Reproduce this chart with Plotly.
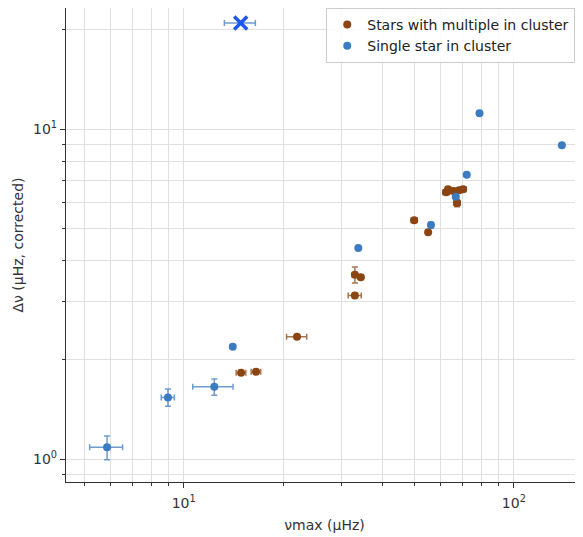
import numpy as np
import plotly.graph_objects as go

# Stars with multiple in cluster
multi_x = [14.92, 16.56, 22.04, 33.0, 34.4, 33.0, 49.9, 55.0, 62.4, 63.2, 65.5, 68.2, 70.2, 67.3]
multi_y = [1.826, 1.839, 2.35, 3.62, 3.56, 3.13, 5.30, 4.87, 6.44, 6.58, 6.49, 6.53, 6.58, 5.97]
multi_xerr = [0.5, 0.55, 1.55, 0.6, 0.6, 1.5, 1.0, 0.6, 1.5, 1.0, 1.0, 1.5, 1.5, 1.5]
multi_yerr = [0.03, 0.03, 0.03, 0.2, 0.05, 0.05, 0.08, 0.06, 0.1, 0.1, 0.1, 0.1, 0.1, 0.15]

# Single star in cluster
single_x = [5.86, 8.96, 12.38, 14.08, 33.8, 56.1, 66.7, 72.0, 78.7, 139.8]
single_y = [1.085, 1.538, 1.656, 2.189, 4.36, 5.12, 6.24, 7.27, 11.18, 8.94]
single_xerr = [0.67, 0.41, 1.73, 0.2, 0.3, 0.6, 0.6, 0.4, 0.4, 0.8]
single_yerr = [0.09, 0.093, 0.094, 0.02, 0.03, 0.1, 0.06, 0.05, 0.05, 0.05]

# Outlier (single star, flagged)
out_x = [14.88]
out_y = [21.0]
out_xerr = [1.6]

major_vals = [1, 10, 100]
major_text = ["10<sup>0</sup>", "10<sup>1</sup>", "10<sup>2</sup>"]
minor_vals = [m * d for d in [0.1, 1, 10, 100] for m in range(2, 10)]

BLUE = "#3b7bbf"
BROWN = "#8b4513"
GRID = "#e0e0e0"

fig = go.Figure()
fig.add_trace(go.Scatter(
    x=multi_x, y=multi_y, mode="markers", name="Stars with multiple in cluster",
    marker=dict(color=BROWN, size=8),
    error_x=dict(type="data", array=multi_xerr, color="rgba(139,69,19,0.75)", thickness=1.5, width=3),
    error_y=dict(type="data", array=multi_yerr, color="rgba(139,69,19,0.75)", thickness=1.5, width=3),
))
fig.add_trace(go.Scatter(
    x=single_x, y=single_y, mode="markers", name="Single star in cluster",
    marker=dict(color=BLUE, size=8),
    error_x=dict(type="data", array=single_xerr, color="rgba(59,123,191,0.75)", thickness=1.5, width=3),
    error_y=dict(type="data", array=single_yerr, color="rgba(59,123,191,0.75)", thickness=1.5, width=3),
))
fig.add_trace(go.Scatter(
    x=out_x, y=out_y, mode="markers", showlegend=False,
    marker=dict(symbol="x-thin", size=13, line=dict(color="#1f55f0", width=3.5)),
    error_x=dict(type="data", array=out_xerr, color="rgba(59,123,191,0.75)", thickness=1.5, width=3),
))

axis_common = dict(
    type="log", showline=True, linecolor="#333333", linewidth=1.2,
    ticks="outside", ticklen=5, tickwidth=1, tickcolor="#333333",
    tickmode="array", tickvals=major_vals, ticktext=major_text,
    showgrid=True, gridcolor=GRID, gridwidth=1, zeroline=False, mirror=False,
    automargin=False,
    minor=dict(tickmode="array", tickvals=minor_vals, ticks="outside", ticklen=3,
               tickcolor="#333333", showgrid=True, gridcolor=GRID, gridwidth=1),
    tickfont=dict(size=14, color="#333333"),
)

# the page is shown with an 8px body margin, so offsets compensate for it
fig.update_layout(
    width=583, height=537,
    margin=dict(l=58, r=8, t=0, b=63, pad=0),
    plot_bgcolor="white", paper_bgcolor="white",
    font=dict(family="DejaVu Sans", color="#333333", size=13),
    xaxis=dict(axis_common, range=[np.log10(4.40), np.log10(162)], ticklabelstandoff=3,
               title=dict(text="νmax (μHz)", font=dict(size=14), standoff=10)),
    yaxis=dict(axis_common, range=[np.log10(0.852), np.log10(23.3)],
               title=dict(text="Δν (μHz, corrected)", font=dict(size=14), standoff=6)),
    legend=dict(x=0.985, y=1.0, xanchor="right", yanchor="top",
                bgcolor="rgba(255,255,255,0.85)", bordercolor="#cccccc", borderwidth=1,
                font=dict(size=14, color="#222222"), itemwidth=30,
                tracegroupgap=0),
    showlegend=True,
)

fig.write_html("out.html")
